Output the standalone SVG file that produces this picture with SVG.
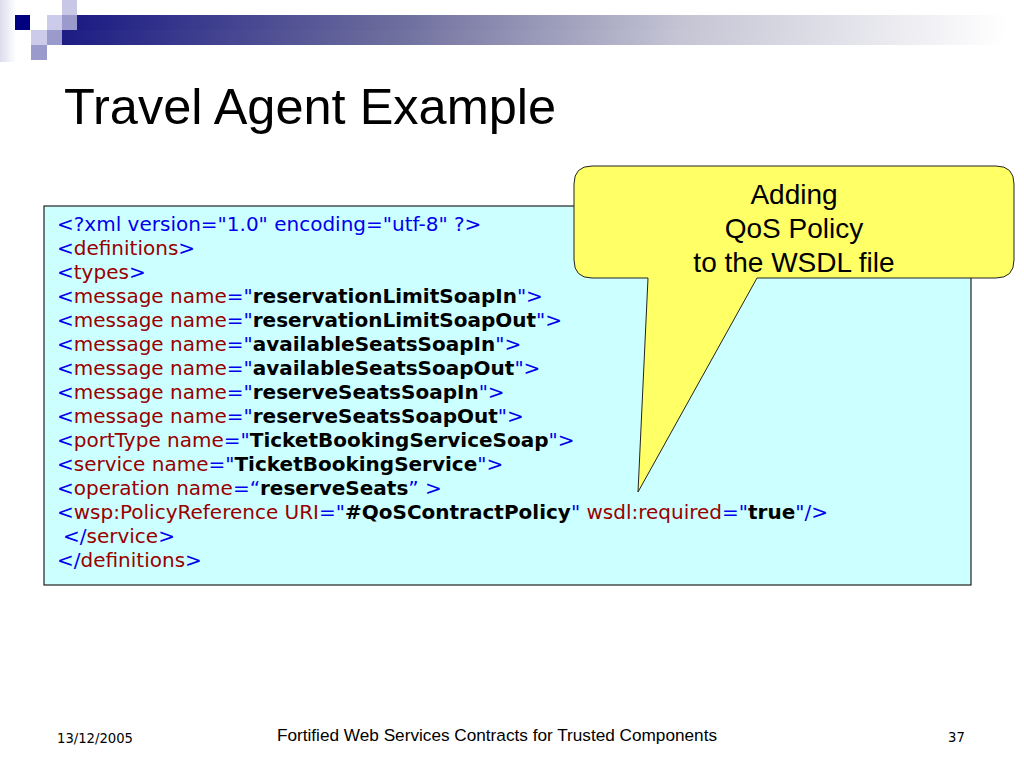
<svg xmlns="http://www.w3.org/2000/svg" width="1024" height="768" viewBox="0 0 1024 768">
<defs>
<linearGradient id="bar" x1="0" y1="0" x2="1" y2="0">
<stop offset="0" stop-color="#1c1c84"/>
<stop offset="0.35" stop-color="#6e6e9e"/>
<stop offset="0.65" stop-color="#c4c4d4"/>
<stop offset="1" stop-color="#ffffff"/>
</linearGradient>
<linearGradient id="side" x1="0" y1="0" x2="1" y2="0">
<stop offset="0" stop-color="#dcdcee"/>
<stop offset="1" stop-color="#ffffff"/>
</linearGradient>
<style>
.code{font-family:"DejaVu Sans",Verdana,sans-serif;font-size:20px}
.b{fill:#0000ee}
.r{fill:#990000}
.k{fill:#000000;font-weight:bold}
.call{font-family:"Liberation Sans",Arial,sans-serif;font-size:28px;fill:#000;text-anchor:middle}
.foot{font-family:"DejaVu Sans",Verdana,sans-serif;font-size:13.2px;fill:#000}
</style>
</defs>
<rect width="1024" height="768" fill="#ffffff"/>
<g id="header">
<rect x="0" y="0" width="16" height="62" fill="url(#side)"/>
<rect x="77" y="15" width="930" height="15" fill="url(#bar)"/>
<rect x="62" y="30" width="945" height="15" fill="url(#bar)"/>
<rect x="15" y="15" width="15" height="15" fill="#000080"/>
<rect x="62" y="0" width="15" height="15" fill="#c8c8e6"/>
<rect x="47" y="15" width="15" height="15" fill="#ccccea"/>
<rect x="62" y="15" width="15" height="15" fill="#9a9acc"/>
<rect x="31" y="30" width="16" height="15" fill="#ccccea"/>
<rect x="47" y="30" width="15" height="15" fill="#9a9acc"/>
<rect x="31" y="45" width="16" height="15" fill="#9a9acc"/>
</g>
<text id="title" x="64" y="124" font-family="Liberation Sans, Arial, sans-serif" font-size="50.5" fill="#000">Travel Agent Example</text>
<g id="code-box">
<rect x="44" y="206" width="927" height="379" fill="#ccffff" stroke="#222" stroke-width="1.2"/>
<text class="code" x="57" y="231"><tspan class="b">&lt;?xml version="1.0" encoding="utf-8" ?&gt;</tspan></text>
<text class="code" x="57" y="255"><tspan class="b">&lt;</tspan><tspan class="r">definitions</tspan><tspan class="b">&gt;</tspan></text>
<text class="code" x="57" y="279"><tspan class="b">&lt;</tspan><tspan class="r">types</tspan><tspan class="b">&gt;</tspan></text>
<text class="code" x="57" y="303"><tspan class="b">&lt;</tspan><tspan class="r">message name</tspan><tspan class="b">="</tspan><tspan class="k">reservationLimitSoapIn</tspan><tspan class="b">"&gt;</tspan></text>
<text class="code" x="57" y="327"><tspan class="b">&lt;</tspan><tspan class="r">message name</tspan><tspan class="b">="</tspan><tspan class="k">reservationLimitSoapOut</tspan><tspan class="b">"&gt;</tspan></text>
<text class="code" x="57" y="351"><tspan class="b">&lt;</tspan><tspan class="r">message name</tspan><tspan class="b">="</tspan><tspan class="k">availableSeatsSoapIn</tspan><tspan class="b">"&gt;</tspan></text>
<text class="code" x="57" y="375"><tspan class="b">&lt;</tspan><tspan class="r">message name</tspan><tspan class="b">="</tspan><tspan class="k">availableSeatsSoapOut</tspan><tspan class="b">"&gt;</tspan></text>
<text class="code" x="57" y="399"><tspan class="b">&lt;</tspan><tspan class="r">message name</tspan><tspan class="b">="</tspan><tspan class="k">reserveSeatsSoapIn</tspan><tspan class="b">"&gt;</tspan></text>
<text class="code" x="57" y="423"><tspan class="b">&lt;</tspan><tspan class="r">message name</tspan><tspan class="b">="</tspan><tspan class="k">reserveSeatsSoapOut</tspan><tspan class="b">"&gt;</tspan></text>
<text class="code" x="57" y="447"><tspan class="b">&lt;</tspan><tspan class="r">portType name</tspan><tspan class="b">="</tspan><tspan class="k">TicketBookingServiceSoap</tspan><tspan class="b">"&gt;</tspan></text>
<text class="code" x="57" y="471"><tspan class="b">&lt;</tspan><tspan class="r">service name</tspan><tspan class="b">="</tspan><tspan class="k">TicketBookingService</tspan><tspan class="b">"&gt;</tspan></text>
<text class="code" x="57" y="495"><tspan class="b">&lt;</tspan><tspan class="r">operation name</tspan><tspan class="b">=“</tspan><tspan class="k">reserveSeats</tspan><tspan class="b">” &gt;</tspan></text>
<text class="code" x="57" y="519"><tspan class="b">&lt;</tspan><tspan class="r">wsp:PolicyReference URI</tspan><tspan class="b">="</tspan><tspan class="k">#QoSContractPolicy</tspan><tspan class="b">"</tspan><tspan class="r"> wsdl:required</tspan><tspan class="b">="</tspan><tspan class="k">true</tspan><tspan class="b">"/&gt;</tspan></text>
<text class="code" x="63" y="543"><tspan class="b">&lt;/</tspan><tspan class="r">service</tspan><tspan class="b">&gt;</tspan></text>
<text class="code" x="57" y="567"><tspan class="b">&lt;/</tspan><tspan class="r">definitions</tspan><tspan class="b">&gt;</tspan></text>
</g>
<g id="callout">
<path d="M592,166 H996 Q1014,166 1014,184 V260 Q1014,278 996,278 H757 L638,492 L648,278 H592 Q574,278 574,260 V184 Q574,166 592,166 Z" fill="#ffff66" stroke="#222" stroke-width="1"/>
<text class="call" x="794" y="204">Adding</text>
<text class="call" x="794" y="238">QoS Policy</text>
<text class="call" x="794" y="272">to the WSDL file</text>
</g>
<g id="footer">
<text class="foot" x="57" y="743">13/12/2005</text>
<text x="497" y="741" font-family="Liberation Sans, Arial, sans-serif" font-size="17.2" fill="#000" text-anchor="middle">Fortified Web Services Contracts for Trusted Components</text>
<text class="foot" x="948" y="742">37</text>
</g>
</svg>
